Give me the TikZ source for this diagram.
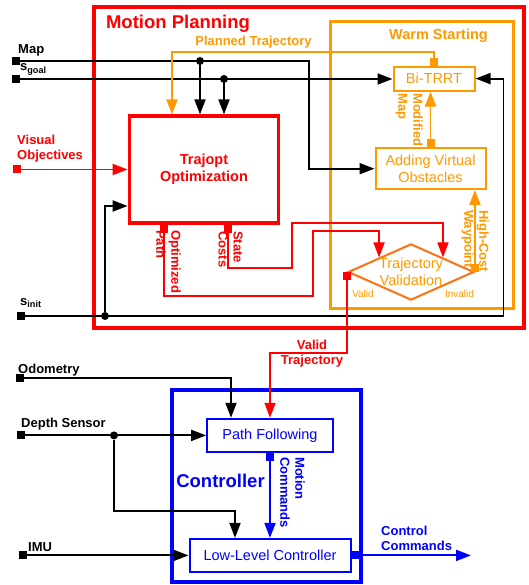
\documentclass[tikz,border=0pt]{standalone}
\usepackage{fontspec}
\setmainfont{Liberation Sans}
\usetikzlibrary{arrows.meta,shapes.geometric}
\definecolor{mpred}{HTML}{FF0000}
\definecolor{wsorange}{HTML}{FF9900}
\definecolor{tvorange}{HTML}{FF7011}
\definecolor{ctblue}{HTML}{0000FF}

\begin{document}
\begin{tikzpicture}[
        x=1pt, y=-1pt,
        frame/.style={draw=#1, rectangle, inner sep=0pt},
        block/.style={draw=#1, text=#1, line width=2pt, inner sep=0pt, font=\fontsize{14.5}{17}\selectfont},
        lbl/.style={inner sep=0pt, font=\bfseries\fontsize{13}{15}\selectfont},
        side/.style={lbl, rotate=-90, anchor=north west, align=left},
        small/.style={inner sep=0pt, text=wsorange, font=\fontsize{10}{12}\selectfont},
        dot/.style={circle, fill, inner sep=0pt, minimum size=8pt},
        flow/.style={line width=1.9pt, -{Triangle[length=15pt,width=11pt]}},
        src/.style={line width=1.9pt, {Square[length=8pt,width=8pt]}-{Triangle[length=15pt,width=11pt]}},
        thin/.style={line width=1.5pt}
    ]
    \useasboundingbox (0,0) rectangle (528,585);

    \node[frame=mpred, line width=4.5pt, minimum width=430pt, minimum height=321pt] (mp) at (309,167.5) {};
    \node[frame=wsorange, line width=3pt, minimum width=183pt, minimum height=286pt] (ws) at (421.5,165) {};
    \node[frame=ctblue, line width=4pt, minimum width=188.5pt, minimum height=192pt] (ct) at (266.5,485.5) {};

    \node[lbl, text=mpred, font=\bfseries\fontsize{18.5}{22}\selectfont, anchor=base] (mptitle) at (178,29) {Motion Planning};
    \node[lbl, text=wsorange, font=\bfseries\fontsize{14.5}{17}\selectfont, anchor=base] (wstitle) at (438.5,39.5) {Warm Starting};
    \node[lbl, text=ctblue, font=\bfseries\fontsize{18.5}{22}\selectfont, anchor=base] (cttitle) at (220.5,487) {Controller};

    \node[block=mpred, line width=3.3pt, font=\bfseries\fontsize{14.5}{17}\selectfont, align=center,
        minimum width=149.5pt, minimum height=107pt] (traj) at (204,169.5) {Trajopt\\Optimization};
    \node[block=wsorange, minimum width=81pt, minimum height=24pt] (bt) at (434,78.6) {Bi-TRRT};
    \node[block=wsorange, align=center, minimum width=110pt, minimum height=40.5pt] (avo) at (430.5,168.7) {Adding Virtual\\Obstacles};
    \node[shape=diamond, draw=tvorange, line width=2pt, text=wsorange, aspect=2.24, inner sep=0pt, align=center,
        font=\fontsize{14.5}{17}\selectfont] (tv) at (411,272) {Trajectory\\Validation};
    \node[block=ctblue, minimum width=125.7pt, minimum height=33.3pt] (pf) at (270,435.4) {Path Following};
    \node[block=ctblue, minimum width=161pt, minimum height=33pt] (ll) at (270,555.4) {Low-Level Controller};

    \coordinate (map) at (12,61);
    \coordinate (goal) at (12,79);
    \coordinate (vis) at (13,169.5);
    \coordinate (init) at (17,316);
    \coordinate (odo) at (16,378);
    \coordinate (depth) at (17,435.4);
    \coordinate (imu) at (19,555.4);
    \coordinate (ctrlout) at (471,555.4);

    \node[lbl, anchor=base west] (maplbl) at (18,54) {Map};
    \node[lbl, anchor=base west] (goallbl) at (20,71) {s\textsubscript{goal}};
    \node[lbl, text=mpred, align=left, anchor=west] (vislbl) at (17,149) {Visual\\Objectives};
    \node[lbl, anchor=base west] (initlbl) at (20,305) {s\textsubscript{init}};
    \node[lbl, anchor=base west] (odolbl) at (18,373) {Odometry};
    \node[lbl, anchor=base west] (depthlbl) at (21,427) {Depth Sensor};
    \node[lbl, anchor=base west] (imulbl) at (28,551) {IMU};
    \node[lbl, text=wsorange, anchor=base] (ptlbl) at (253.5,46) {Planned Trajectory};
    \node[side, text=wsorange] (mmlbl) at (423,93) {Modified\\Map};
    \node[side, text=mpred] (oplbl) at (181,230) {Optimized\\Path};
    \node[side, text=mpred] (sclbl) at (243,231) {State\\Costs};
    \node[side, text=wsorange] (hclbl) at (489,210) {High-Cost\\Waypoint};
    \node[side, text=ctblue] (mclbl) at (305,457) {Motion\\Commands};
    \node[lbl, text=mpred, align=center] (vtlbl) at (312,354) {Valid\\Trajectory};
    \node[lbl, text=ctblue, align=left, anchor=west] (cclbl) at (381,538) {Control\\Commands};
    \node[small] (validlbl) at (363,294) {Valid};
    \node[small] (invalidlbl) at (459.5,294) {Invalid};

    \node[dot] (mapdot) at (200,61) {};
    \node[dot] (goaldot) at (224,79) {};
    \node[dot] (initdot) at (105,316) {};
    \node[dot] (depthdot) at (114,435.4) {};

    \draw[src] (map) -| ([xshift=-65.5pt]avo.west) -- (avo.west);
    \draw[flow] (mapdot) -- (mapdot |- traj.north);
    \draw[src] (goal) -- (goal -| bt.west);
    \draw[flow] (goaldot) -- (goaldot |- traj.north);
    \draw[src, color=mpred] (vis) -- (vis -| traj.west);
    \draw[src] (init) -| ([xshift=28pt]bt.east) -- (bt.east);
    \draw[flow] (initdot) |- ([yshift=-36.5pt]traj.west);

    \draw[src, color=wsorange] (bt.north) -- ++(0,-14) -| ([xshift=-32pt]traj.north);
    \draw[src, color=wsorange] (avo.north) -- (avo.north |- bt.south);
    \draw[src, color=wsorange] (tv.east) -- (tv.east |- avo.south);

    \draw[src, thin, color=mpred] ([xshift=36.5pt]traj.south west) |- (313,296) |- (tv.north west |- 0,231) -- (tv.north west);
    \draw[src, thin, color=mpred] ([xshift=100.5pt]traj.south west) |- (292,268) |- (tv.north east |- 0,223) -- (tv.north east);
    \draw[src, thin, color=mpred] (tv.west) -- (tv.west |- 0,353) -| (pf.north);

    \draw[src] (odo) -| ([xshift=-39pt]pf.north);
    \draw[src] (depth) -- (pf.west);
    \draw[flow] (depthdot) |- (235,511) -- ([xshift=-35pt]ll.north);
    \draw[src] (imu) -- (imu -| ll.west);
    \draw[src, color=ctblue] (pf.south) -- (ll.north);
    \draw[src, color=ctblue] (ll.east) -- (ctrlout);
\end{tikzpicture}
\end{document}
